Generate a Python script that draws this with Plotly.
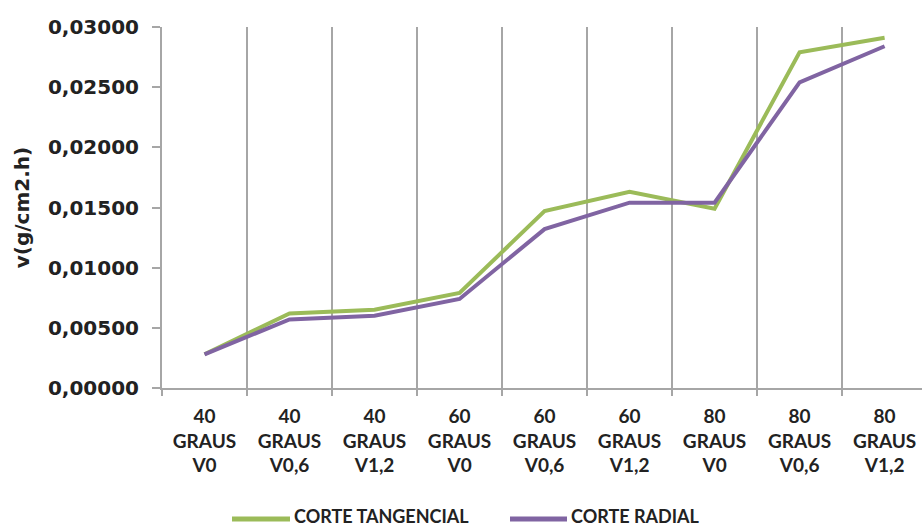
import plotly.graph_objects as go

# Category labels (temperature / speed combinations)
temperaturas = ["40", "40", "40", "60", "60", "60", "80", "80", "80"]
velocidades = ["V0", "V0,6", "V1,2", "V0", "V0,6", "V1,2", "V0", "V0,6", "V1,2"]
categorias = [f"{t}<br>GRAUS<br>{v}" for t, v in zip(temperaturas, velocidades)]

# Drying rate v (g/cm2.h) for each cut
nomes_series = ["CORTE TANGENCIAL", "CORTE RADIAL"]
corte_tangencial = [0.0028, 0.0062, 0.0065, 0.0079, 0.0147, 0.0163, 0.0149, 0.0279, 0.0291]
corte_radial = [0.0028, 0.0057, 0.0060, 0.0074, 0.0132, 0.0154, 0.0154, 0.0254, 0.0284]

y_ticks = [0, 0.005, 0.010, 0.015, 0.020, 0.025, 0.030]

cores = ["#9BBB59", "#8064A2"]
cinza = "#A6A6A6"
fonte_num = "DejaVu Sans"
fonte_txt = "Lato"

W, H = 922, 528
ML, MR, MT, MB = 162, 0, 27, 140
plot_w = W - ML - MR
plot_h = H - MT - MB


def px_x(px):
    return (px - ML) / plot_w


def px_y(py):
    return (H - MB - py) / plot_h


fig = go.Figure()
for nome, valores, cor in zip(nomes_series, [corte_tangencial, corte_radial], cores):
    fig.add_trace(go.Scatter(
        x=categorias, y=valores, name=nome, mode="lines",
        line=dict(color=cor, width=4), showlegend=False,
    ))

# Legend drawn below the plot
legenda = [(232, 290, 292), (510, 567, 569)]
for (x0, x1, xt), nome, cor in zip(legenda, nomes_series, cores):
    fig.add_shape(type="line", xref="paper", yref="paper",
                  x0=px_x(x0), x1=px_x(x1), y0=px_y(519), y1=px_y(519),
                  line=dict(color=cor, width=5))
    fig.add_annotation(text=nome, xref="paper", yref="paper",
                       x=px_x(xt), y=px_y(516), xanchor="left", yanchor="middle",
                       showarrow=False,
                       font=dict(family=fonte_txt, size=18, color="#222222", weight="bold"))

fig.update_layout(
    width=W, height=H,
    margin=dict(l=ML, r=MR, t=MT, b=MB, autoexpand=False),
    paper_bgcolor="white", plot_bgcolor="white",
    separators=",.",
    showlegend=False,
)

fig.update_xaxes(
    type="category", range=[-0.5, 8.44],
    tickson="boundaries", showgrid=True, gridcolor=cinza, gridwidth=1.5,
    showline=True, linecolor=cinza, linewidth=2,
    ticks="outside", ticklen=6, tickcolor=cinza, tickwidth=1.5,
    ticklabelstandoff=10,
    tickfont=dict(family=fonte_txt, size=19, color="#222222", weight="bold"),
    tickangle=0, automargin=False,
)

fig.update_yaxes(
    range=[0, 0.03], tickvals=y_ticks, tickformat=".5f",
    showgrid=False, zeroline=False,
    showline=True, linecolor=cinza, linewidth=2,
    ticks="outside", ticklen=8, tickcolor=cinza, tickwidth=1.5,
    ticklabelstandoff=9,
    tickfont=dict(family=fonte_num, size=20, color="#222222", weight="bold"),
    title=dict(text="v(g/cm2.h)", standoff=13,
               font=dict(family=fonte_num, size=20, color="#222222", weight="bold")),
    automargin=False,
)

fig.write_html("out.html")
